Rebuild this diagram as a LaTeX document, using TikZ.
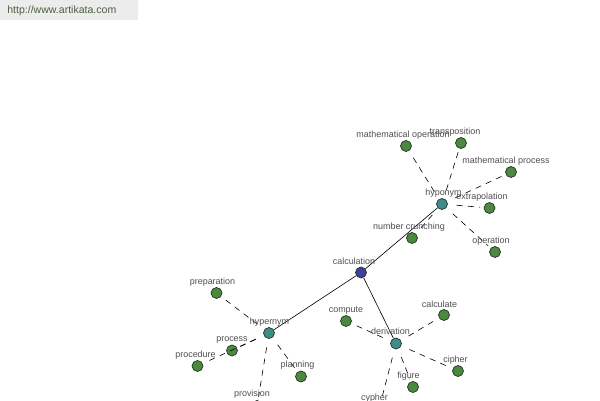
\documentclass[tikz,border=0pt]{standalone}
\usepackage{fontspec}
\setmainfont{Liberation Sans}
\usepackage{tikz}

\definecolor{rootblue}{RGB}{60,64,155}
\definecolor{relteal}{RGB}{62,140,140}
\definecolor{leafgreen}{RGB}{74,138,60}
\definecolor{rimgray}{RGB}{40,48,40}
\definecolor{wordgray}{RGB}{80,80,80}
\definecolor{urlgreen}{RGB}{75,95,60}
\definecolor{urlback}{RGB}{236,236,236}

\tikzset{
  rootdot/.style={circle, draw=rimgray, fill=rootblue, line width=0.4pt, inner sep=0pt, minimum size=0.22cm},
  reldot/.style={rootdot, fill=relteal},
  leafdot/.style={rootdot, fill=leafgreen},
  word/.style={text=wordgray, font=\fontsize{5.1}{6}\selectfont, inner sep=0pt},
  link/.style={line width=0.35pt, black},
  weaklink/.style={line width=0.35pt, black, dash pattern=on 3.4pt off 3pt, shorten <=5pt, shorten >=2pt},
}

\begin{document}
\begin{tikzpicture}[x=0.02cm, y=-0.02cm]
        \clip (0,0) rectangle (600,400);
        \fill[white] (0,0) rectangle (600,400);

        % Site banner
        \fill[urlback] (0,0) rectangle (138,20);
        \node[text=urlgreen, font=\fontsize{6}{7}\selectfont, anchor=west, inner sep=0pt] (url) at (7,10.5) {http://www.artikata.com};

        % Centre word and the three relation hubs
        \node[rootdot] (calc) at (361,272.5) {};
        \node[reldot] (hypo) at (442,204) {};
        \node[reldot] (hyper) at (269,333) {};
        \node[reldot] (deriv) at (396,343.5) {};

        % Hyponym leaves
        \node[leafdot] (matop) at (406,146) {};
        \node[leafdot] (transp) at (461,143) {};
        \node[leafdot] (matproc) at (511,172) {};
        \node[leafdot] (extrap) at (489.5,208) {};
        \node[leafdot] (oper) at (495,252) {};
        \node[leafdot] (crunch) at (412,238) {};

        % Hypernym leaves
        \node[leafdot] (prep) at (216.5,293) {};
        \node[leafdot] (proc) at (232,350.5) {};
        \node[leafdot] (procd) at (197.5,366) {};
        \node[leafdot] (plan) at (301,376.5) {};
        \node[leafdot] (prov) at (257,406) {};

        % Derivation leaves
        \node[leafdot] (comp) at (346,321) {};
        \node[leafdot] (calcu) at (444,315) {};
        \node[leafdot] (ciph) at (458,371) {};
        \node[leafdot] (fig) at (413,387) {};
        \node[leafdot] (cyph) at (379,409) {};

        % Main branches
        \draw[link] (calc) -- (hypo);
        \draw[link] (calc) -- (hyper);
        \draw[link] (calc) -- (deriv);

        % Dashed spokes
        \draw[weaklink] (hypo) -- (matop);
        \draw[weaklink] (hypo) -- (transp);
        \draw[weaklink] (hypo) -- (matproc);
        \draw[weaklink] (hypo) -- (extrap);
        \draw[weaklink] (hypo) -- (oper);
        \draw[weaklink] (hypo) -- (crunch);
        \draw[weaklink] (hyper) -- (prep);
        \draw[weaklink] (hyper) -- (proc);
        \draw[weaklink] (hyper) -- (procd);
        \draw[weaklink] (hyper) -- (plan);
        \draw[weaklink] (hyper) -- (prov);
        \draw[weaklink] (deriv) -- (comp);
        \draw[weaklink] (deriv) -- (calcu);
        \draw[weaklink] (deriv) -- (ciph);
        \draw[weaklink] (deriv) -- (fig);
        \draw[weaklink] (deriv) -- (cyph);

        % Word labels
        \node[word] (calc-t) at (354,261) {calculation};
        \node[word] (hypo-t) at (443.5,193) {hyponym};
        \node[word] (hyper-t) at (269.5,322) {hypernym};
        \node[word] (deriv-t) at (390.5,331.5) {derivation};
        \node[word] (matop-t) at (403,135) {mathematical operation};
        \node[word] (transp-t) at (455,132) {transposition};
        \node[word] (matproc-t) at (506,161) {mathematical process};
        \node[word] (extrap-t) at (482,197) {extrapolation};
        \node[word] (oper-t) at (491,241) {operation};
        \node[word] (crunch-t) at (409,227) {number crunching};
        \node[word] (prep-t) at (212.5,282.5) {preparation};
        \node[word] (proc-t) at (232,340.5) {process};
        \node[word] (procd-t) at (195.5,355) {procedure};
        \node[word] (plan-t) at (297.5,365.5) {planning};
        \node[word] (prov-t) at (252,394.5) {provision};
        \node[word] (comp-t) at (346,310.5) {compute};
        \node[word] (calcu-t) at (439.5,304) {calculate};
        \node[word] (ciph-t) at (455.5,360) {cipher};
        \node[word] (fig-t) at (408.5,376) {figure};
        \node[word] (cyph-t) at (374.5,398.5) {cypher};
      \end{tikzpicture}
\end{document}
